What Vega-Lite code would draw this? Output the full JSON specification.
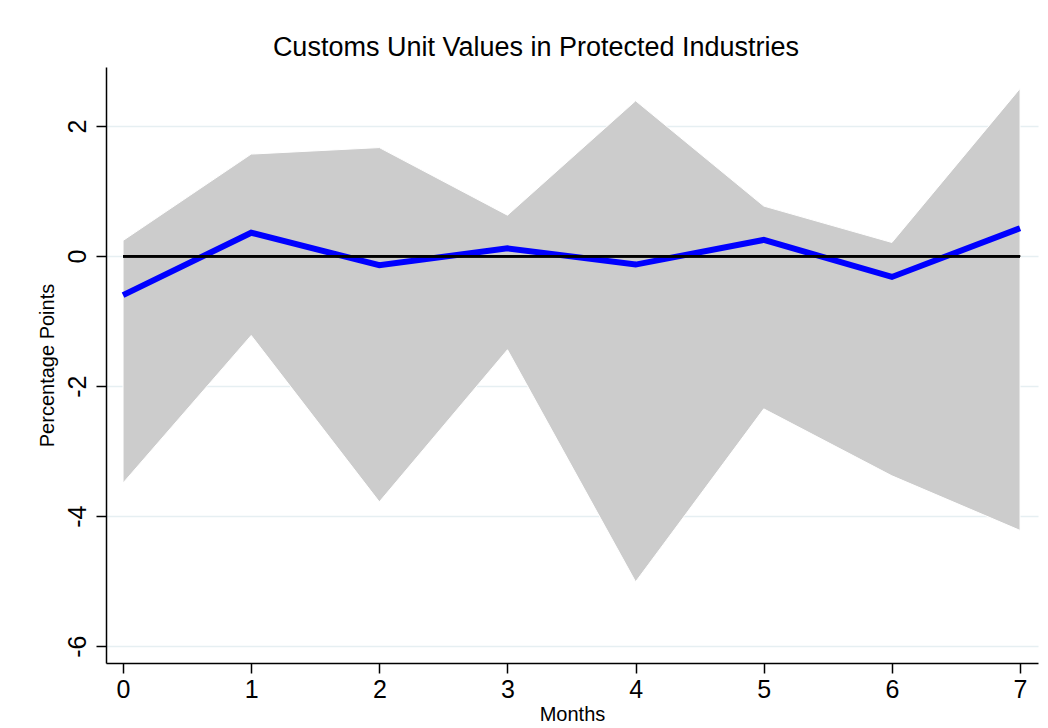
{
  "$schema": "https://vega.github.io/schema/vega-lite/v6.json",
  "autosize": {"type": "none"},
  "width": 932,
  "height": 596,
  "padding": {"left": 106, "top": 67, "right": 10, "bottom": 65},
  "background": "white",
  "title": {
    "text": "Customs Unit Values in Protected Industries",
    "font": "Liberation Sans",
    "fontSize": 27,
    "fontWeight": "normal",
    "color": "black",
    "anchor": "middle",
    "dx": -36,
    "offset": 5
  },
  "config": {
    "view": {"stroke": null},
    "axis": {
      "labelFont": "Liberation Sans",
      "titleFont": "Liberation Sans",
      "labelColor": "black",
      "titleColor": "black",
      "domainColor": "black",
      "domainWidth": 1.5,
      "tickColor": "black",
      "tickWidth": 1.5,
      "tickSize": 10,
      "titleFontWeight": "normal"
    }
  },
  "data": {
    "values": [
      {"month": 0, "est": -0.60, "lo": -3.49, "hi": 0.24},
      {"month": 1, "est": 0.36, "lo": -1.22, "hi": 1.57},
      {"month": 2, "est": -0.14, "lo": -3.78, "hi": 1.67},
      {"month": 3, "est": 0.12, "lo": -1.44, "hi": 0.63},
      {"month": 4, "est": -0.13, "lo": -5.01, "hi": 2.39},
      {"month": 5, "est": 0.25, "lo": -2.35, "hi": 0.77},
      {"month": 6, "est": -0.32, "lo": -3.38, "hi": 0.21},
      {"month": 7, "est": 0.43, "lo": -4.22, "hi": 2.58}
    ]
  },
  "encoding": {
    "x": {
      "field": "month",
      "type": "quantitative",
      "scale": {"domain": [-0.133, 7.14], "nice": false, "zero": false},
      "axis": {
        "title": "Months",
        "titleFontSize": 20,
        "titlePadding": 2,
        "values": [0, 1, 2, 3, 4, 5, 6, 7],
        "labelExpr": "'' + datum.value",
        "labelFontSize": 25,
        "labelPadding": 4,
        "grid": false
      }
    }
  },
  "layer": [
    {
      "mark": {"type": "area", "color": "#cccccc", "stroke": "white", "strokeWidth": 1, "opacity": 1},
      "encoding": {
        "y": {
          "field": "lo",
          "type": "quantitative",
          "scale": {"domain": [-6.26, 2.91], "nice": false, "zero": false},
          "axis": {
            "title": "Percentage Points",
            "titleFontSize": 20,
            "titlePadding": 8,
            "values": [-6, -4, -2, 0, 2],
            "labelExpr": "'' + datum.value",
            "labelFontSize": 25,
            "labelAngle": -90,
            "labelPadding": 6,
            "grid": true,
            "gridColor": "#e6eff2",
            "gridWidth": 1.5
          }
        },
        "y2": {"field": "hi"}
      }
    },
    {
      "mark": {"type": "line", "color": "#0000ff", "strokeWidth": 6},
      "encoding": {
        "y": {"field": "est", "type": "quantitative"}
      }
    },
    {
      "mark": {"type": "rule", "color": "black", "strokeWidth": 2},
      "encoding": {
        "x": {"datum": 0},
        "x2": {"datum": 7},
        "y": {"datum": 0}
      }
    }
  ]
}
